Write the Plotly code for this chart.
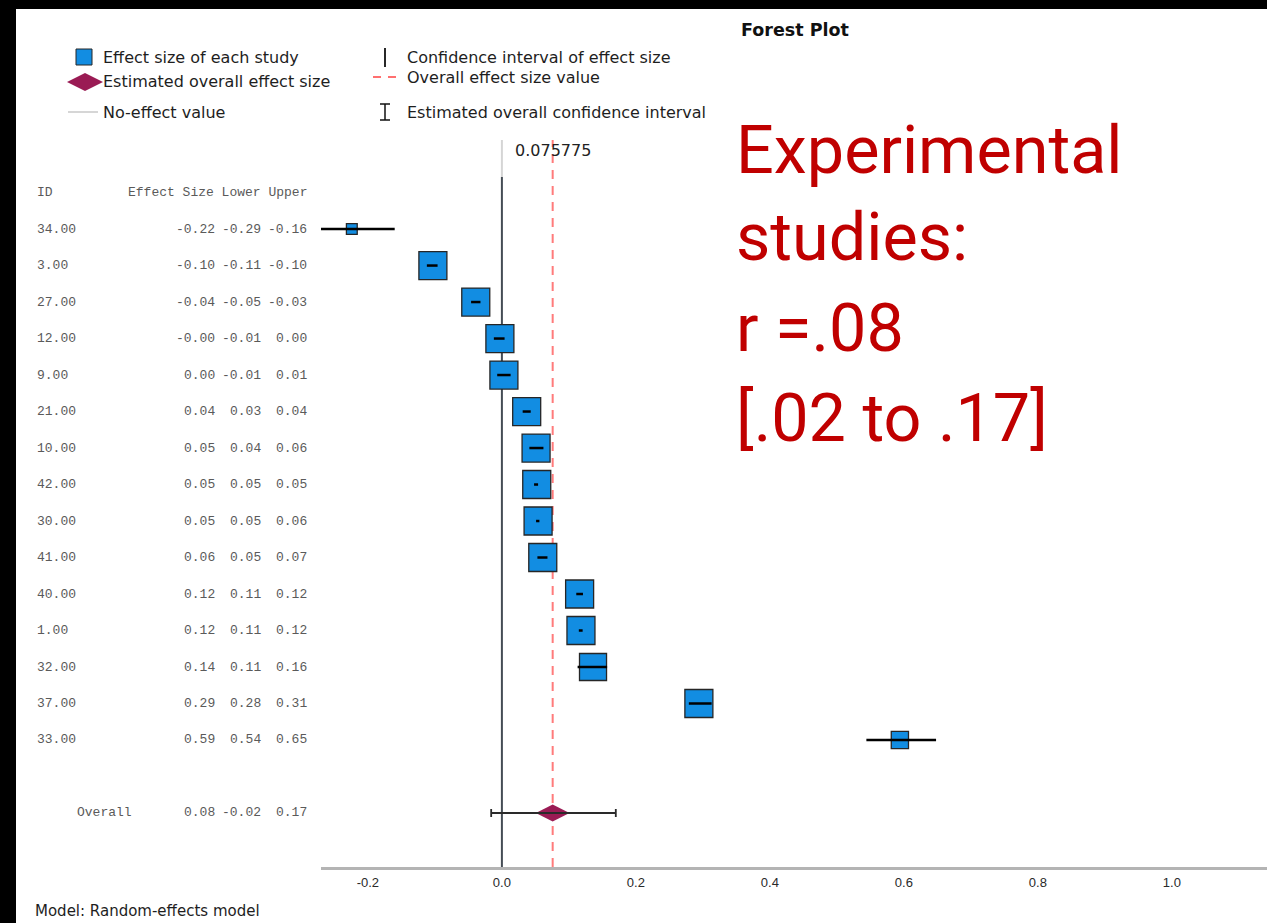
import math
import plotly.graph_objects as go

# ---------------- data ----------------
study_ids = [34, 3, 27, 12, 9, 21, 10, 42, 30, 41, 40, 1, 32, 37, 33]
effect = [-0.224, -0.103, -0.039, -0.003, 0.003, 0.037, 0.051, 0.052, 0.054, 0.061,
          0.116, 0.118, 0.136, 0.294, 0.594]
lower = [-0.29, -0.112, -0.046, -0.012, -0.007, 0.031, 0.041, 0.048, 0.051, 0.053,
         0.111, 0.1148, 0.113, 0.279, 0.544]
upper = [-0.16, -0.096, -0.032, 0.004, 0.013, 0.043, 0.062, 0.054, 0.056, 0.068,
         0.121, 0.1205, 0.157, 0.313, 0.648]
weights = [1.1, 7.4, 7.4, 7.4, 7.4, 7.4, 7.4, 7.4, 7.4, 7.4, 7.4, 7.4, 6.9, 7.4, 2.8]

overall_es = 0.075775
overall_lo = -0.016
overall_hi = 0.170
no_effect = 0.0

x_ticks = [-0.2, 0.0, 0.2, 0.4, 0.6, 0.8, 1.0]
table_header = ["ID", "Effect Size", "Lower", "Upper"]

# ---------------- layout geometry ----------------
W, H = 1267, 923
L, R, T, B = 321, 0, 140, 56
PW, PH = W - L - R, H - T - B


def px(x):
    return (x - L) / PW


def py(y):
    return (H - B - y) / PH


n = len(study_ids)
rows = list(range(1, n + 1))
overall_row = n + 2

BLUE = "#128DE2"
MAROON = "#9A1B54"
REDTXT = "#C00000"

fig = go.Figure()

# study squares
sizes = [28 * math.sqrt(w / 7.4) for w in weights]
fig.add_trace(go.Scatter(
    x=effect, y=rows, mode="markers",
    marker=dict(symbol="square", size=sizes, color=BLUE, opacity=1,
                line=dict(color="#262626", width=1.3)),
    hoverinfo="skip", showlegend=False))

# study CI lines (drawn on top of squares)
cx, cy = [], []
for lo, hi, r in zip(lower, upper, rows):
    cx += [lo, hi, None]
    cy += [r, r, None]
fig.add_trace(go.Scatter(x=cx, y=cy, mode="lines",
                         line=dict(color="black", width=2.5),
                         hoverinfo="skip", showlegend=False))

# overall diamond
fig.add_trace(go.Scatter(
    x=[overall_es], y=[overall_row], mode="markers",
    marker=dict(symbol="diamond-wide", size=24, color=MAROON, opacity=1, line=dict(width=0)),
    hoverinfo="skip", showlegend=False))
# overall CI with caps
fig.add_trace(go.Scatter(
    x=[overall_es], y=[overall_row], mode="markers",
    marker=dict(size=1, color="rgba(0,0,0,0)"),
    error_x=dict(type="data", symmetric=False,
                 array=[overall_hi - overall_es],
                 arrayminus=[overall_es - overall_lo],
                 color="#2A2A2A", thickness=1.8, width=4),
    hoverinfo="skip", showlegend=False))

shapes = []
# no-effect line: light top part + dark part
shapes.append(dict(type="line", xref="x", yref="paper", x0=no_effect, x1=no_effect,
                   y0=py(177), y1=1, line=dict(color="#D5D5D5", width=2), layer="below"))
shapes.append(dict(type="line", xref="x", yref="paper", x0=no_effect, x1=no_effect,
                   y0=0, y1=py(177), line=dict(color="#454C55", width=2), layer="below"))
# overall effect dashed line
shapes.append(dict(type="line", xref="x", yref="paper", x0=overall_es, x1=overall_es,
                   y0=0, y1=1, line=dict(color="#FF7B7B", width=2, dash="9px,7px"),
                   layer="below"))

# black borders of the screenshot
shapes.append(dict(type="rect", xref="paper", yref="paper", x0=px(0), x1=px(W),
                   y0=py(9), y1=py(0), fillcolor="black", line=dict(width=0)))
shapes.append(dict(type="rect", xref="paper", yref="paper", x0=px(0), x1=px(16),
                   y0=py(H), y1=py(0), fillcolor="black", line=dict(width=0)))

# legend glyphs
shapes.append(dict(type="rect", xref="paper", yref="paper", x0=px(76), x1=px(92),
                   y0=py(65), y1=py(49), fillcolor=BLUE, line=dict(color="#262626", width=1)))
shapes.append(dict(type="path", xref="paper", yref="paper",
                   path="M {} {} L {} {} L {} {} L {} {} Z".format(
                       px(67), py(82), px(85), py(73), px(103), py(82), px(85), py(91)),
                   fillcolor=MAROON, line=dict(width=0)))
shapes.append(dict(type="line", xref="paper", yref="paper", x0=px(68), x1=px(98),
                   y0=py(112), y1=py(112), line=dict(color="#C8C8C8", width=1.5)))
shapes.append(dict(type="line", xref="paper", yref="paper", x0=px(385), x1=px(385),
                   y0=py(67), y1=py(48), line=dict(color="#111", width=1.8)))
shapes.append(dict(type="line", xref="paper", yref="paper", x0=px(373), x1=px(381),
                   y0=py(77), y1=py(77), line=dict(color="#FF4040", width=1.5)))
shapes.append(dict(type="line", xref="paper", yref="paper", x0=px(388), x1=px(396),
                   y0=py(77), y1=py(77), line=dict(color="#FF4040", width=1.5)))
shapes.append(dict(type="line", xref="paper", yref="paper", x0=px(385), x1=px(385),
                   y0=py(120), y1=py(104), line=dict(color="#111", width=1.5)))
for yy in (104, 120):
    shapes.append(dict(type="line", xref="paper", yref="paper", x0=px(380), x1=px(390),
                       y0=py(yy), y1=py(yy), line=dict(color="#111", width=1.5)))

ann = []
SANS = "DejaVu Sans, Open Sans, sans-serif"
LEG_FONT = dict(family=SANS, size=16, color="#1E1E1E")
for txt, x, y in [("Effect size of each study", 101, 57),
                  ("Estimated overall effect size", 101, 82),
                  ("No-effect value", 101, 112),
                  ("Confidence interval of effect size", 405, 57),
                  ("Overall effect size value", 405, 77),
                  ("Estimated overall confidence interval", 405, 112)]:
    ann.append(dict(text=txt, xref="paper", yref="paper", x=px(x), y=py(y),
                    xanchor="left", yanchor="middle", showarrow=False, font=LEG_FONT))

ann.append(dict(text="<b>Forest Plot</b>", xref="paper", yref="paper", x=px(739), y=py(30),
                xanchor="left", yanchor="middle", showarrow=False,
                font=dict(family=SANS, size=17.5, color="#111")))
ann.append(dict(text="Model: Random-effects model", xref="paper", yref="paper",
                x=px(33), y=py(911), xanchor="left", yanchor="middle", showarrow=False,
                font=dict(family=SANS, size=15, color="#1E1E1E")))
ann.append(dict(text=f"{overall_es:.6f}", xref="x", yref="paper", x=overall_es, y=py(150),
                xanchor="center", yanchor="middle", showarrow=False,
                font=dict(family=SANS, size=16, color="#222")))

# table
TF = dict(family="Liberation Mono, Courier New, monospace", size=13, color="#5A5A5A")
ann.append(dict(text=table_header[0], xref="paper", yref="y", x=px(35), y=0,
                xanchor="left", yanchor="middle", showarrow=False, font=TF))
ann.append(dict(text=" ".join(table_header[1:]), xref="paper", yref="y", x=px(309), y=0,
                xanchor="right", yanchor="middle", showarrow=False, font=TF))
col_right = [217, 263, 309]
for sid, es, lo, hi, r in zip(study_ids, effect, lower, upper, rows):
    ann.append(dict(text=f"{sid:.2f}", xref="paper", yref="y", x=px(35), y=r,
                    xanchor="left", yanchor="middle", showarrow=False, font=TF))
    for val, cr in zip((es, lo, hi), col_right):
        ann.append(dict(text=f"{val:.2f}", xref="paper", yref="y", x=px(cr), y=r,
                        xanchor="right", yanchor="middle", showarrow=False, font=TF))
ann.append(dict(text="Overall", xref="paper", yref="y", x=px(75), y=overall_row,
                xanchor="left", yanchor="middle", showarrow=False, font=TF))
for val, cr in zip((overall_es, overall_lo, overall_hi), col_right):
    ann.append(dict(text=f"{val:.2f}", xref="paper", yref="y", x=px(cr), y=overall_row,
                    xanchor="right", yanchor="middle", showarrow=False, font=TF))

# big red text
BIG = dict(family="Roboto, Liberation Sans, Arial, sans-serif", size=66.5, color=REDTXT)
for txt, yc in [("Experimental", 150), ("studies:", 237.5), ("r =.08", 327.5),
                ("[.02 to .17]", 417.5)]:
    ann.append(dict(text=txt, xref="paper", yref="paper", x=px(734), y=py(yc),
                    xanchor="left", yanchor="middle", showarrow=False, font=BIG))

fig.update_layout(
    width=W, height=H,
    margin=dict(l=L, r=R, t=T, b=B, pad=0),
    paper_bgcolor="white", plot_bgcolor="white",
    shapes=shapes, annotations=ann, showlegend=False,
    xaxis=dict(range=[-0.27, -0.27 + PW / 670.0], showgrid=False, zeroline=False,
               showline=True, linecolor="#B4B4B4", linewidth=3,
               tickvals=x_ticks, ticktext=[f"{v:.1f}" for v in x_ticks],
               ticks="", ticklabelstandoff=1,
               tickfont=dict(family="Liberation Sans, sans-serif", size=13, color="#2A2A2A")),
    yaxis=dict(range=[18.48, -1.44], visible=False, showgrid=False, zeroline=False),
)

fig.write_html("out.html",
               config={"displayModeBar": False},
               post_script="document.body.style.margin='0px';"
                           "document.body.style.overflow='hidden';")
